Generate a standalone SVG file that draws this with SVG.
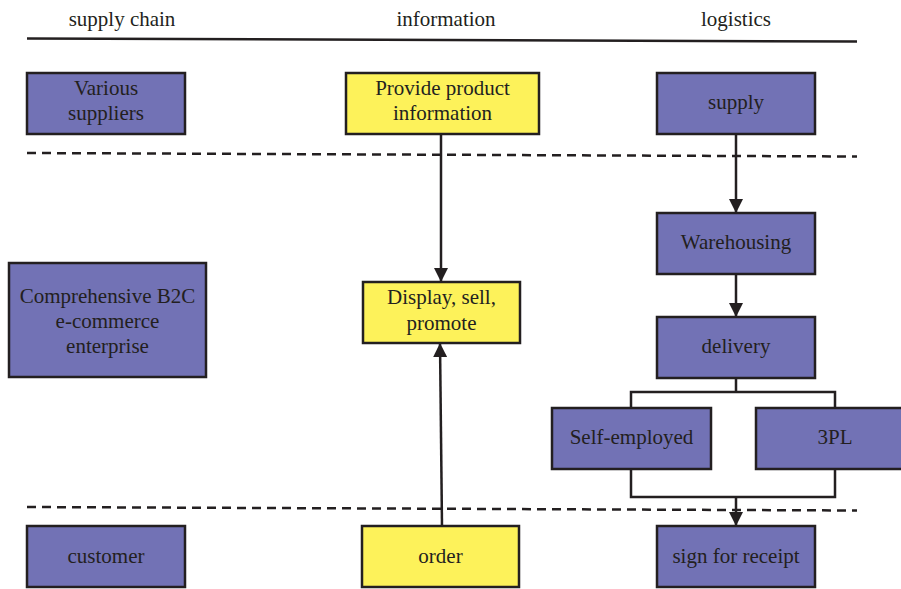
<svg xmlns="http://www.w3.org/2000/svg" width="901" height="589" viewBox="0 0 901 589">
<defs>
<style>
text{font-family:"Liberation Serif","DejaVu Serif",serif;font-size:21px;fill:#231f20;text-anchor:middle}
.p{fill:#7272b5;stroke:#231f20;stroke-width:2.5}
.y{fill:#fdf25a;stroke:#231f20;stroke-width:2.5}
.c{fill:none;stroke:#231f20;stroke-width:2.5}
.d{fill:none;stroke:#231f20;stroke-width:2.5;stroke-dasharray:9,6}
</style>
<marker id="a" viewBox="0 0 14 14" refX="14" refY="7" markerWidth="14" markerHeight="14" markerUnits="userSpaceOnUse" orient="auto">
<path d="M0,0 L14,7 L0,14 z" fill="#231f20"/>
</marker>
</defs>
<g id="headers">
<text x="122" y="26">supply chain</text>
<text x="446" y="26">information</text>
<text x="736" y="26">logistics</text>
<path class="c" d="M27,38.5 L857,41.5"/>
<path class="d" d="M27,153 L857,156.5"/>
<path class="d" d="M27,507 L857,510.5"/>
</g>
<g id="connectors">
<path class="c" d="M441,134 L441,282" marker-end="url(#a)"/>
<path class="c" d="M442,526 L440,343" marker-end="url(#a)"/>
<path class="c" d="M736,134 L736,213" marker-end="url(#a)"/>
<path class="c" d="M736,274 L736,317" marker-end="url(#a)"/>
<path class="c" d="M736,378 L736,392 M631,408 L631,392 L835,392 L835,408"/>
<path class="c" d="M631,469 L631,497 L835,497 L835,469"/>
<path class="c" d="M736,497 L736,526" marker-end="url(#a)"/>
</g>
<g id="various-suppliers"><rect class="p" x="27" y="73" width="158" height="61"/><text x="106" y="95">Various</text><text x="106" y="120">suppliers</text></g>
<g id="provide-info"><rect class="y" x="346" y="73" width="193" height="61"/><text x="442.5" y="95">Provide product</text><text x="442.5" y="120">information</text></g>
<g id="supply"><rect class="p" x="657" y="73" width="158" height="61"/><text x="736" y="109">supply</text></g>
<g id="b2c"><rect class="p" x="9" y="263" width="197" height="114"/><text x="107.5" y="303">Comprehensive B2C</text><text x="107.5" y="328">e-commerce</text><text x="107.5" y="353">enterprise</text></g>
<g id="display"><rect class="y" x="363" y="282" width="157" height="61"/><text x="441.5" y="304">Display, sell,</text><text x="441.5" y="330">promote</text></g>
<g id="warehousing"><rect class="p" x="657" y="213" width="158" height="61"/><text x="736" y="249">Warehousing</text></g>
<g id="delivery"><rect class="p" x="657" y="317" width="158" height="61"/><text x="736" y="353">delivery</text></g>
<g id="self-employed"><rect class="p" x="552" y="408" width="159" height="61"/><text x="631.5" y="444">Self-employed</text></g>
<g id="3pl"><rect class="p" x="756" y="408" width="158" height="61"/><text x="835" y="444">3PL</text></g>
<g id="customer"><rect class="p" x="27" y="526" width="158" height="61"/><text x="106" y="563">customer</text></g>
<g id="order"><rect class="y" x="362" y="526" width="157" height="61"/><text x="440.5" y="563">order</text></g>
<g id="sign"><rect class="p" x="657" y="526" width="158" height="61"/><text x="736" y="563">sign for receipt</text></g>
</svg>
